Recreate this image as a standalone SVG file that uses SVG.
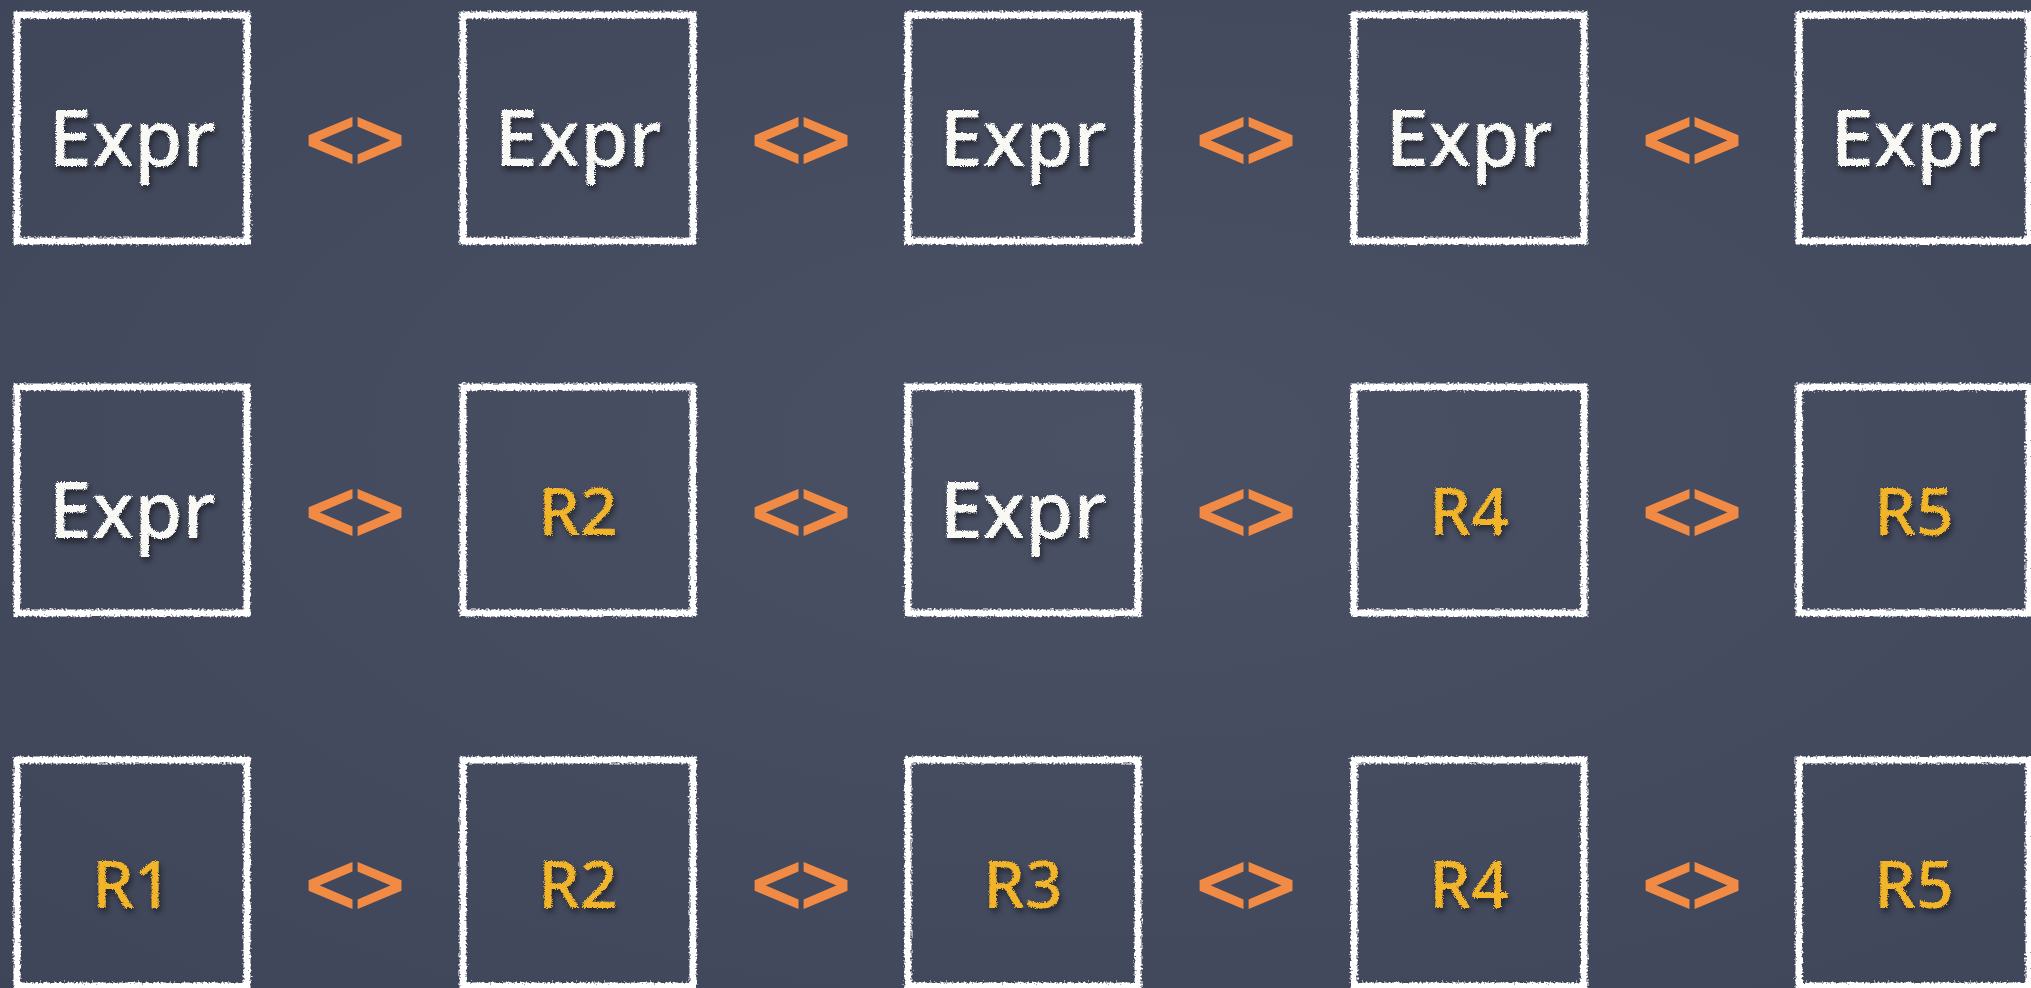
<svg xmlns="http://www.w3.org/2000/svg" width="2031" height="988" viewBox="0 0 2031 988">
<defs>
  <filter id="chalk" x="-5%" y="-5%" width="110%" height="110%">
    <feTurbulence type="fractalNoise" baseFrequency="0.5" numOctaves="2" seed="3" result="n"/>
    <feDisplacementMap in="SourceGraphic" in2="n" scale="6" xChannelSelector="R" yChannelSelector="G"/>
  </filter>
  <filter id="chalkText" x="-10%" y="-10%" width="120%" height="130%">
    <feTurbulence type="fractalNoise" baseFrequency="0.9" numOctaves="2" seed="7" result="n"/>
    <feDisplacementMap in="SourceGraphic" in2="n" scale="4" xChannelSelector="R" yChannelSelector="G" result="d"/>
    <feGaussianBlur in="SourceAlpha" stdDeviation="3" result="b"/>
    <feOffset in="b" dx="2" dy="4" result="o"/>
    <feComponentTransfer in="o" result="s"><feFuncA type="linear" slope="0.5"/></feComponentTransfer>
    <feMerge><feMergeNode in="s"/><feMergeNode in="d"/></feMerge>
  </filter>
  <radialGradient id="bg" cx="0.55" cy="0.45" r="0.8">
    <stop offset="0" stop-color="#4b5165"/>
    <stop offset="1" stop-color="#3f4558"/>
  </radialGradient>
  <style>
    .box{fill:none;stroke:#ffffff;stroke-width:7;filter:url(#chalk)}
    .expr{font-family:"Noto Sans",sans-serif;font-weight:500;font-size:78px;fill:#f8f8f4;text-anchor:middle;filter:url(#chalkText)}
    .res{font-family:"Noto Sans",sans-serif;font-weight:500;font-size:66px;fill:#f2b52b;text-anchor:middle;filter:url(#chalkText)}
    .op{font-family:"Liberation Sans",sans-serif;font-size:84px;fill:#f08a45;stroke:#f08a45;stroke-width:3;text-anchor:middle}
  </style>
</defs>
<rect width="2031" height="988" fill="url(#bg)"/>

<g id="connectors">
  <text class="op" x="355" y="168">&lt;&gt;</text>
  <text class="op" x="801" y="168">&lt;&gt;</text>
  <text class="op" x="1246" y="168">&lt;&gt;</text>
  <text class="op" x="1692" y="168">&lt;&gt;</text>
  <text class="op" x="355" y="540">&lt;&gt;</text>
  <text class="op" x="801" y="540">&lt;&gt;</text>
  <text class="op" x="1246" y="540">&lt;&gt;</text>
  <text class="op" x="1692" y="540">&lt;&gt;</text>
  <text class="op" x="355" y="913">&lt;&gt;</text>
  <text class="op" x="801" y="913">&lt;&gt;</text>
  <text class="op" x="1246" y="913">&lt;&gt;</text>
  <text class="op" x="1692" y="913">&lt;&gt;</text>
</g>

<g id="r1c1"><rect class="box" x="17" y="15" width="230" height="226"/><text class="expr" x="132" y="166">Expr</text></g>
<g id="r1c2"><rect class="box" x="463" y="15" width="230" height="226"/><text class="expr" x="578" y="166">Expr</text></g>
<g id="r1c3"><rect class="box" x="908" y="15" width="230" height="226"/><text class="expr" x="1023" y="166">Expr</text></g>
<g id="r1c4"><rect class="box" x="1354" y="15" width="230" height="226"/><text class="expr" x="1469" y="166">Expr</text></g>
<g id="r1c5"><rect class="box" x="1799" y="15" width="230" height="226"/><text class="expr" x="1914" y="166">Expr</text></g>

<g id="r2c1"><rect class="box" x="17" y="387" width="230" height="226"/><text class="expr" x="132" y="538">Expr</text></g>
<g id="r2c2"><rect class="box" x="463" y="387" width="230" height="226"/><text class="res" x="578" y="535">R2</text></g>
<g id="r2c3"><rect class="box" x="908" y="387" width="230" height="226"/><text class="expr" x="1023" y="538">Expr</text></g>
<g id="r2c4"><rect class="box" x="1354" y="387" width="230" height="226"/><text class="res" x="1469" y="535">R4</text></g>
<g id="r2c5"><rect class="box" x="1799" y="387" width="230" height="226"/><text class="res" x="1914" y="535">R5</text></g>

<g id="r3c1"><rect class="box" x="17" y="760" width="230" height="226"/><text class="res" x="132" y="908">R1</text></g>
<g id="r3c2"><rect class="box" x="463" y="760" width="230" height="226"/><text class="res" x="578" y="908">R2</text></g>
<g id="r3c3"><rect class="box" x="908" y="760" width="230" height="226"/><text class="res" x="1023" y="908">R3</text></g>
<g id="r3c4"><rect class="box" x="1354" y="760" width="230" height="226"/><text class="res" x="1469" y="908">R4</text></g>
<g id="r3c5"><rect class="box" x="1799" y="760" width="230" height="226"/><text class="res" x="1914" y="908">R5</text></g>
</svg>
